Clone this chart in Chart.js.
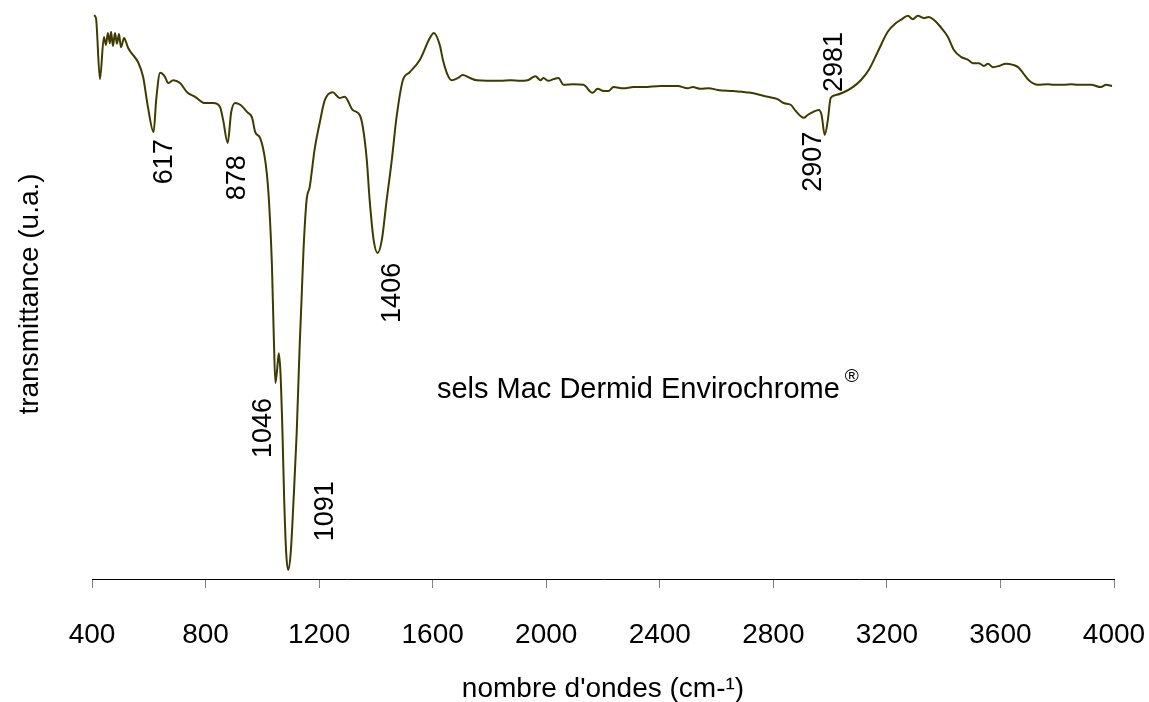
<!DOCTYPE html>
<html>
<head>
<meta charset="utf-8">
<script src="https://cdn.jsdelivr.net/npm/chart.js@4"></script>
<style>
  html, body { margin: 0; padding: 0; background: #fff; }
  #wrap { width: 1149px; height: 702px; position: relative; }
</style>
</head>
<body>
<div id="wrap"><canvas id="ir-chart"></canvas></div>
<script>
// IR spectrum, sels Mac Dermid Envirochrome
const wavenumbers = [407, 414, 428, 442, 449, 456, 463, 467, 474, 481, 488, 495, 502, 513, 520, 527, 545, 562, 580, 597,
  617, 626, 640, 657, 668, 686, 710, 735, 763, 798, 827, 851, 862, 878, 890, 904, 922, 947, 964, 975,
  992, 1010, 1020, 1027, 1034, 1040, 1046, 1052, 1058, 1064, 1071, 1077, 1084, 1091, 1100, 1110, 1121, 1131, 1138, 1145,
  1156, 1167, 1184, 1202, 1220, 1248, 1272, 1290, 1318, 1343, 1354, 1368, 1378, 1392, 1406, 1421, 1438, 1456, 1473, 1495,
  1519, 1555, 1590, 1604, 1625, 1636, 1653, 1667, 1689, 1706, 1731, 1756, 1839, 1874, 1909, 1934, 1962, 1980, 1990, 2008,
  2026, 2043, 2061, 2096, 2131, 2163, 2181, 2202, 2219, 2237, 2272, 2308, 2343, 2403, 2463, 2498, 2516, 2544, 2572, 2604,
  2660, 2720, 2755, 2780, 2815, 2836, 2861, 2879, 2907, 2921, 2939, 2960, 2970, 2981, 2992, 3002, 3020, 3048, 3080, 3108,
  3136, 3168, 3203, 3231, 3249, 3274, 3291, 3309, 3330, 3348, 3365, 3390, 3415, 3436, 3461, 3485, 3503, 3524, 3542, 3556,
  3573, 3595, 3619, 3644, 3662, 3679, 3700, 3732, 3767, 3788, 3824, 3848, 3873, 3919, 3954, 3972, 3993];

const transmittance = [98.9, 98.4, 87.7, 95.1, 93.7, 95.8, 94.0, 96.0, 93.5, 95.8, 93.9, 95.6, 93.3, 94.9, 94.2, 93.2, 91.9, 90.7, 88.1, 82.8,
  78.4, 84.0, 88.8, 88.1, 87.0, 87.5, 87.0, 85.4, 84.6, 83.5, 83.5, 82.8, 80.5, 76.5, 81.8, 83.5, 83.2, 81.9, 80.9, 78.4,
  77.4, 73.5, 68.8, 63.0, 54.7, 43.2, 34.4, 36.7, 39.6, 36.1, 25.6, 13.9, 4.6, 1.6, 4.6, 13.9, 25.6, 40.2, 48.9, 57.7,
  66.5, 68.8, 75.3, 80.0, 84.0, 85.4, 84.4, 84.6, 82.3, 81.4, 79.3, 73.5, 66.5, 59.5, 57.2, 59.5, 66.5, 73.5, 81.1, 87.5,
  88.9, 91.1, 94.9, 95.8, 93.7, 91.1, 88.4, 87.5, 87.9, 88.4, 87.9, 87.5, 87.4, 87.5, 87.4, 87.5, 88.2, 87.5, 87.9, 87.4,
  87.7, 87.9, 86.7, 86.8, 86.7, 85.3, 86.0, 85.6, 85.6, 86.3, 86.1, 86.3, 86.3, 86.5, 86.5, 86.1, 86.3, 86.0, 86.1, 85.8,
  85.6, 85.3, 84.9, 84.6, 84.2, 83.5, 83.2, 82.1, 80.9, 81.4, 81.9, 82.3, 81.4, 77.9, 80.5, 84.4, 84.9, 85.4, 86.3, 87.5,
  89.3, 92.5, 96.0, 97.5, 98.1, 98.8, 98.2, 98.8, 98.4, 98.6, 98.1, 96.8, 95.1, 92.8, 91.6, 91.1, 90.5, 90.5, 90.0, 90.4,
  89.8, 90.0, 90.4, 90.2, 89.8, 88.8, 87.5, 86.7, 86.8, 86.7, 86.7, 86.8, 86.7, 86.7, 86.3, 86.7, 86.5];

const xTicks = [400, 800, 1200, 1600, 2000, 2400, 2800, 3200, 3600, 4000];

// band labels (rotated), anchored in data units
const peakLabels = ['617', '878', '1046', '1091', '1406', '2907', '2981'];
const peakLabelX = [657, 911, 1006, 1221, 1457, 2943, 3014];
const peakLabelY = [73.2, 70.4, 26.5, 11.9, 50.2, 73.2, 90.7];

const sampleName = 'sels Mac Dermid Envirochrome';
const sampleX = 1615;
const sampleY = 33.2;

const FONT = '"Liberation Sans", Arial, sans-serif';

const textPlugin = {
  id: 'irText',
  afterDatasetsDraw(chart) {
    const { ctx, scales: { x, y } } = chart;
    ctx.save();
    ctx.fillStyle = '#000';
    ctx.font = '27px ' + FONT;
    ctx.textAlign = 'center';
    ctx.textBaseline = 'middle';
    peakLabels.forEach((txt, i) => {
      ctx.save();
      ctx.translate(x.getPixelForValue(peakLabelX[i]), y.getPixelForValue(peakLabelY[i]));
      ctx.rotate(-Math.PI / 2);
      ctx.fillText(txt, 0, 0);
      ctx.restore();
    });

    // sample name + registered sign
    const px = x.getPixelForValue(sampleX);
    const py = y.getPixelForValue(sampleY);
    ctx.font = '29px ' + FONT;
    ctx.textAlign = 'left';
    ctx.fillText(sampleName, px, py);
    const w = ctx.measureText(sampleName).width;
    ctx.font = '19px ' + FONT;
    ctx.fillText('®', px + w + 5, py - 13);
    ctx.restore();
  }
};

const points = wavenumbers.map((w, i) => ({ x: w, y: transmittance[i] }));

new Chart(document.getElementById('ir-chart'), {
  type: 'line',
  data: {
    datasets: [{
      label: 'transmittance',
      data: points,
      borderColor: '#3c3c00',
      borderWidth: 2,
      pointRadius: 0,
      fill: false,
      cubicInterpolationMode: 'monotone'
    }]
  },
  options: {
    responsive: true,
    maintainAspectRatio: false,
    animation: false,
    layout: { autoPadding: false, padding: { top: 9, right: 35, left: 0, bottom: 0 } },
    plugins: {
      legend: { display: false },
      tooltip: { enabled: false }
    },
    scales: {
      x: {
        type: 'linear',
        min: 400,
        max: 4000,
        afterBuildTicks: (scale) => { scale.ticks = xTicks.map(v => ({ value: v })); },
        afterFit: (scale) => { scale.height = 123; scale.paddingLeft = 0; scale.paddingRight = 0; },
        border: { display: true, color: '#000', width: 1 },
        grid: { drawOnChartArea: false, drawTicks: true, tickLength: 9, color: '#808080' },
        ticks: {
          color: '#000', padding: 30, maxRotation: 0, autoSkip: false,
          font: { family: FONT, size: 28 },
          callback: (v) => String(v)
        },
        title: { display: true, text: "nombre d'ondes (cm-¹)", color: '#000', padding: 0, font: { family: FONT, size: 28, lineHeight: 0.9 } }
      },
      y: {
        min: 0,
        max: 100,
        afterFit: (scale) => { scale.width = 92; },
        border: { display: false },
        grid: { display: false },
        ticks: { display: false },
        title: { display: true, text: 'transmittance (u.a.)', color: '#000', padding: { top: 13, bottom: 0 }, font: { family: FONT, size: 28 } }
      }
    }
  },
  plugins: [textPlugin]
});
</script>
</body>
</html>
